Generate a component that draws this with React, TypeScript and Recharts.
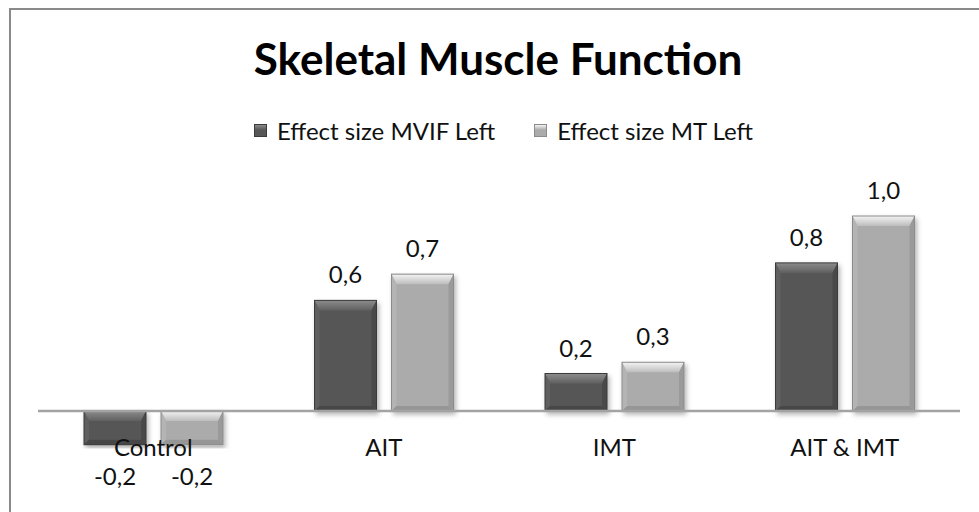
import { BarChart, Bar, XAxis, YAxis, Legend, LabelList, ReferenceLine } from "recharts";

const categories = ["Control", "AIT", "IMT", "AIT & IMT"];
const mvifLeft = [-0.18, 0.59, 0.2, 0.79];
const mtLeft = [-0.18, 0.73, 0.26, 1.04];
const seriesNames = ["Effect size MVIF Left", "Effect size MT Left"];

const data = categories.map((name, i) => ({ name, mvif: mvifLeft[i], mt: mtLeft[i] }));

const FONT = "Lato, 'Open Sans', sans-serif";

const palettes = {
  dark: { body: "#575757", topA: "#8c8c8c", topB: "#606060", left: "#5f5f5f", right: "#4a4a4a", bottom: "#474747", edge: "#3b3b3b" },
  light: { body: "#ababab", topA: "#f4f4f4", topB: "#bdbdbd", left: "#b4b4b4", right: "#9a9a9a", bottom: "#969696", edge: "#8b8b8b" },
};

type Pal = typeof palettes.dark;

function bevelShape(pal: Pal, gradId: string) {
  return (props: any) => {
    const { x, y, width, height } = props;
    const top = Math.min(y, y + height);
    const h = Math.abs(height);
    const w = width;
    const b = Math.min(10, h / 3);
    const s = Math.min(5, w / 4);
    return (
      <g filter="url(#barShadow)">
        <rect x={x} y={top} width={w} height={h} fill={pal.body} />
        <polygon points={`${x},${top} ${x + w},${top} ${x + w - s},${top + b} ${x + s},${top + b}`} fill={`url(#${gradId})`} />
        <polygon points={`${x},${top} ${x + s},${top + b} ${x + s},${top + h - s} ${x},${top + h}`} fill={pal.left} />
        <polygon points={`${x + w},${top} ${x + w - s},${top + b} ${x + w - s},${top + h - s} ${x + w},${top + h}`} fill={pal.right} />
        <polygon points={`${x},${top + h} ${x + s},${top + h - s} ${x + w - s},${top + h - s} ${x + w},${top + h}`} fill={pal.bottom} />
        <rect x={x} y={top} width={w} height={h} fill="none" stroke={pal.edge} strokeWidth={1} />
      </g>
    );
  };
}

const fmt = (v: number) => v.toFixed(1).replace(".", ",");

function renderValueLabel(props: any) {
  const { x, y, width, height, value } = props;
  const top = Math.min(y, y + height);
  const bottom = Math.max(y, y + height);
  const cx = x + width / 2;
  const ty = value >= 0 ? top - 17 : bottom + 40;
  return (
    <text x={cx} y={ty} textAnchor="middle" fontFamily={FONT} fontSize={24} fill="#111">
      {fmt(value)}
    </text>
  );
}

function CategoryTick(props: any) {
  const { x, y, payload } = props;
  return (
    <text x={x} y={y} dy={7} textAnchor="middle" fontFamily={FONT} fontSize={24} fill="#111">
      {payload.value}
    </text>
  );
}

function LegendContent() {
  const items = [
    { name: seriesNames[0], pal: palettes.dark },
    { name: seriesNames[1], pal: palettes.light },
  ];
  return (
    <div style={{ display: "flex", justifyContent: "center", gap: 39, fontFamily: FONT, fontSize: 24, color: "#111" }}>
      {items.map((it) => (
        <div key={it.name} style={{ display: "flex", alignItems: "center", gap: 10 }}>
          <span
            style={{
              display: "inline-block",
              width: 11,
              height: 11,
              background: `linear-gradient(${it.pal.topA}, ${it.pal.body} 45%)`,
              border: `1px solid ${it.pal.edge}`,
            }}
          />
          <span>{it.name}</span>
        </div>
      ))}
    </div>
  );
}

export default function App() {
  return (
    <div style={{ position: "absolute", left: 0, top: 0, width: 979, height: 512, overflow: "hidden", background: "#fff" }}>
      <div
        style={{
          position: "absolute",
          left: 9,
          top: 8,
          width: 1100,
          height: 700,
          border: "2.5px solid #8a8a8a",
        }}
      />
      <div
        style={{
          position: "absolute",
          left: 0,
          top: 32,
          width: 996,
          textAlign: "center",
          fontFamily: FONT,
          fontWeight: 700,
          fontSize: 44,
          color: "#000",
        }}
      >
        Skeletal Muscle Function
      </div>
      <div style={{ position: "absolute", left: 0, top: 0 }}>
        <BarChart
          width={979}
          height={512}
          data={data}
          margin={{ top: 186, right: 19, bottom: 33.5, left: 38 }}
          barSize={62}
          barGap={15}
        >
          <defs>
            <filter id="barShadow" x="-20%" y="-20%" width="150%" height="150%">
              <feDropShadow dx="2" dy="3" stdDeviation="2.5" floodColor="#000" floodOpacity="0.3" />
            </filter>
            <linearGradient id="topDark" x1="0" y1="0" x2="0" y2="1">
              <stop offset="0%" stopColor={palettes.dark.topA} />
              <stop offset="100%" stopColor={palettes.dark.topB} />
            </linearGradient>
            <linearGradient id="topLight" x1="0" y1="0" x2="0" y2="1">
              <stop offset="0%" stopColor={palettes.light.topA} />
              <stop offset="100%" stopColor={palettes.light.topB} />
            </linearGradient>
          </defs>
          <YAxis hide domain={[-0.2, 1.2]} allowDataOverflow />
          <Legend
            verticalAlign="middle"
            wrapperStyle={{ top: 116, left: 0, width: 1007 }}
            content={<LegendContent />}
          />
          <ReferenceLine y={0} stroke="#a3a3a3" strokeWidth={2.5} />
          <Bar dataKey="mvif" name={seriesNames[0]} isAnimationActive={false} shape={bevelShape(palettes.dark, "topDark")}>
            <LabelList dataKey="mvif" content={renderValueLabel} />
          </Bar>
          <Bar dataKey="mt" name={seriesNames[1]} isAnimationActive={false} shape={bevelShape(palettes.light, "topLight")}>
            <LabelList dataKey="mt" content={renderValueLabel} />
          </Bar>
          <XAxis dataKey="name" axisLine={false} tickLine={false} tickSize={0} tickMargin={0} tick={<CategoryTick />} interval={0} />
        </BarChart>
      </div>
    </div>
  );
}
